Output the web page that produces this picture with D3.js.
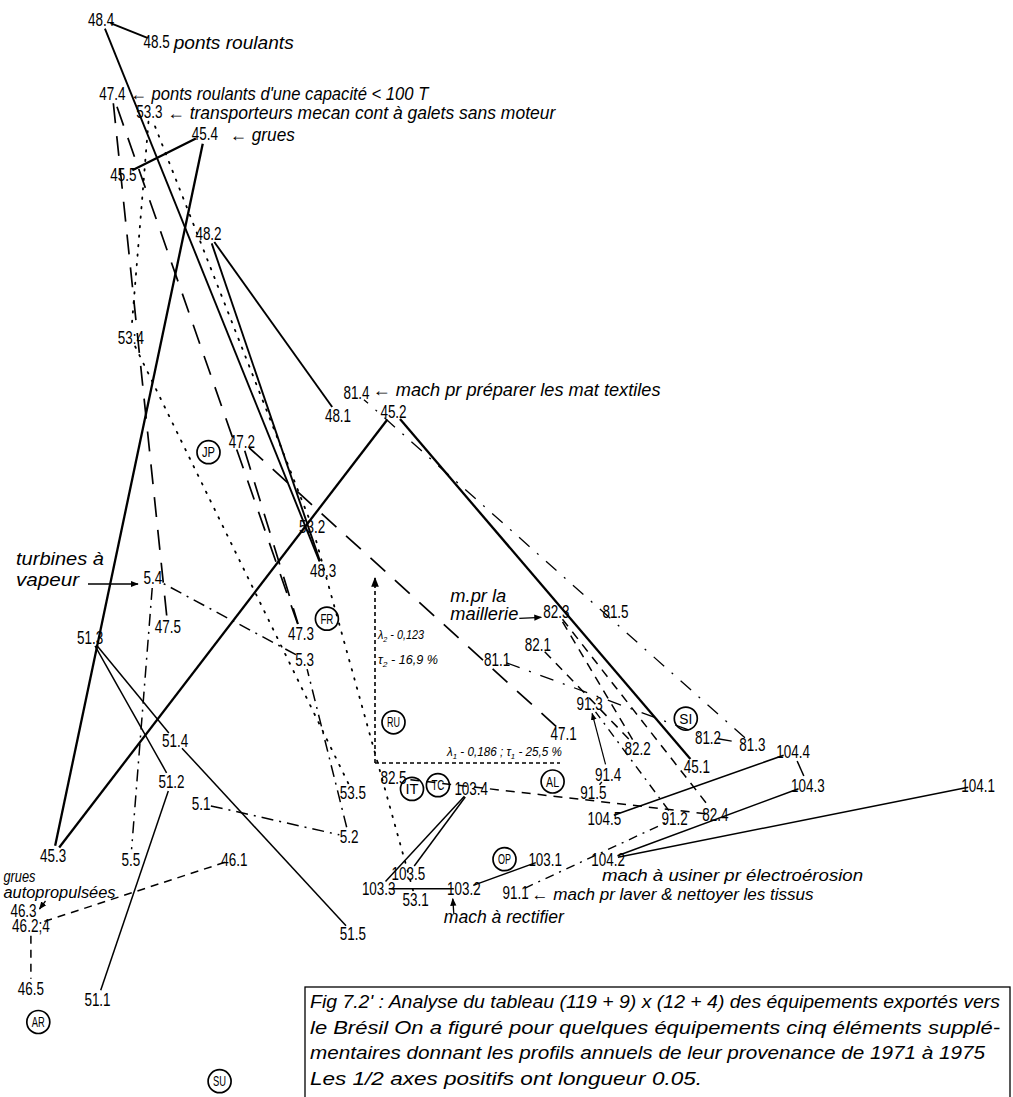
<!DOCTYPE html>
<html>
<head>
<meta charset="utf-8">
<style>
body { margin: 0; background: #fff; }
text { font-family: "Liberation Sans", "DejaVu Sans", sans-serif; fill: #000; }
.hand { font-style: italic; }
</style>
</head>
<body>
<div id="chart"></div>
<script src="https://cdnjs.cloudflare.com/ajax/libs/d3/7.8.5/d3.min.js"></script>
<script>
// factor coordinates x 1000 : [label, F1, F2]
var grues        = [["45.1", 87, -1], ["45.2", 5, 95], ["45.3", -87, -25], ["45.4", -46, 170], ["45.5", -68, 159]];
var gruesAuto    = [["46.1", -38, -26], ["46.2", -93, -44], ["46.3", -95, -40], ["46.4", -93, -44], ["46.5", -93, -61]];
var pontsCap     = [["47.1", 51, 8], ["47.2", -36, 87], ["47.3", -20, 35], ["47.4", -71, 181], ["47.5", -56, 37]];
var pontsRoul    = [["48.1", -10, 94], ["48.2", -45, 143], ["48.3", -14, 52], ["48.4", -74, 201], ["48.5", -59, 195]];
var turbines     = [["5.1", -47, -11], ["5.2", -7, -20], ["5.3", -19, 28], ["5.4", -60, 50], ["5.5", -66, -26]];
var item51       = [["51.1", -75, -64], ["51.2", -55, -5], ["51.3", -77, 34], ["51.4", -54, 6], ["51.5", -6, -46]];
var transport    = [["53.1", 11, -37], ["53.2", -17, 64], ["53.3", -61, 176], ["53.4", -66, 115], ["53.5", -6, -8]];
var textilesPrep = [["81.1", 33, 28], ["81.2", 90, 7], ["81.3", 102, 5], ["81.4", -5, 100], ["81.5", 65, 41]];
var maillerie    = [["82.1", 44, 32], ["82.2", 71, 4], ["82.3", 49, 41], ["82.4", 92, -14], ["82.5", 5, -4]];
var laver        = [["91.1", 38, -35], ["91.2", 81, -15], ["91.3", 58, 16], ["91.4", 63, -3], ["91.5", 59, -8]];
var rectifier    = [["103.1", 46, -26], ["103.2", 24, -34], ["103.3", 1, -34], ["103.4", 26, -7], ["103.5", 9, -30]];
var electro      = [["104.1", 163, -6], ["104.2", 63, -26], ["104.3", 117, -6], ["104.4", 113, 3], ["104.5", 62, -15]];

// countries (columns)
var countries = [["JP", -45, 84], ["FR", -13, 39], ["RU", 5, 11], ["IT", 10, -7], ["TC", 17, -6],
                 ["AL", 48, -5], ["SI", 84, 12], ["OP", 35, -26], ["AR", -91, -70], ["SU", -42, -86]];

// yearly profile links
var links = [
  ["45.1","45.2"],["45.2","45.3"],["45.3","45.4"],["45.4","45.5"],
  ["48.1","48.2"],["48.2","48.3"],["48.3","48.4"],["48.4","48.5"],
  ["51.1","51.2"],["51.2","51.3"],["51.3","51.4"],["51.4","51.5"],
  ["47.1","47.2"],["47.2","47.3"],["47.3","47.4"],["47.4","47.5"],
  ["53.1","53.2"],["53.2","53.3"],["53.3","53.4"],["53.4","53.5"],
  ["5.1","5.2"],["5.2","5.3"],["5.3","5.4"],["5.4","5.5"],
  ["46.1","46.2"],["46.4","46.5"],
  ["82.1","82.2"],["82.2","82.3"],["82.3","82.4"],["82.4","82.5"],
  ["81.1","81.2"],["81.2","81.3"],["81.3","81.4"],
  ["91.1","91.2"],["91.2","91.3"],["91.4","91.5"],
  ["103.1","103.2"],["103.2","103.3"],["103.3","103.4"],["103.4","103.5"],
  ["104.1","104.2"],["104.2","104.3"],["104.3","104.4"],["104.4","104.5"]
];
var arrowLinks = [["91.4","91.3"]];

var caption = [
  "Fig 7.2' : Analyse du tableau (119 + 9) x (12 + 4) des équipements exportés vers",
  "le Brésil  On a figuré pour quelques équipements cinq éléments supplé-",
  "mentaires donnant les profils annuels de leur provenance de 1971 à 1975",
  "Les 1/2 axes positifs ont longueur 0.05."
];

var W = 1013, H = 1097;
// both half axes (0.05) drawn with the same length
var x = d3.scaleLinear().domain([0, 50]).range([375, 560]);
var y = d3.scaleLinear().domain([0, 50]).range([763, 578]);

var svg = d3.select("#chart").append("svg").attr("width", W).attr("height", H);

var defs = svg.append("defs");
defs.append("marker").attr("id", "arr").attr("viewBox", "0 0 10 10")
  .attr("refX", 9).attr("refY", 5).attr("markerWidth", 6).attr("markerHeight", 6)
  .attr("orient", "auto")
  .append("path").attr("d", "M0,1 L10,5 L0,9 Z").attr("fill", "#000");

var points = [].concat(grues, gruesAuto, pontsCap, pontsRoul, turbines, item51, transport,
                       textilesPrep, maillerie, laver, rectifier, electro)
  .map(function(d) { return {name: d[0], f1: d[1], f2: d[2], serie: d[0].split(".")[0]}; });
var byName = {};
points.forEach(function(p) { byName[p.name] = p; });

var styles = {
  "45":  {w: 2.3, dash: null},
  "48":  {w: 1.9, dash: null},
  "51":  {w: 1.5, dash: null},
  "103": {w: 1.5, dash: null},
  "104": {w: 1.5, dash: null},
  "47":  {w: 1.7, dash: "20,13"},
  "53":  {w: 1.8, dash: "1.5,8"},
  "5":   {w: 1.5, dash: "12,6,2,6"},
  "46":  {w: 1.5, dash: "8,6"},
  "82":  {w: 1.5, dash: "9,7"},
  "81":  {w: 1.3, dash: "14,10,2,10"},
  "91":  {w: 1.4, dash: "9,6,2,6"}
};

function seg(a, b, g) {
  var x1 = x(a.f1), y1 = y(a.f2), x2 = x(b.f1), y2 = y(b.f2);
  var dx = x2 - x1, dy = y2 - y1, L = Math.sqrt(dx * dx + dy * dy) || 1;
  return [x1 + dx / L * g, y1 + dy / L * g, x2 - dx / L * g, y2 - dy / L * g];
}

var gl = svg.append("g").attr("fill", "none").attr("stroke", "#000");
gl.selectAll("line.link").data(links).enter().append("line")
  .attr("class", "link")
  .each(function(d) {
    var a = byName[d[0]], b = byName[d[1]], s = seg(a, b, 10), st = styles[a.serie];
    d3.select(this).attr("x1", s[0]).attr("y1", s[1]).attr("x2", s[2]).attr("y2", s[3])
      .attr("stroke-width", st.w).attr("stroke-dasharray", st.dash)
      .attr("stroke-linecap", st.dash === "1.5,8" ? "round" : "butt");
  });

gl.selectAll("line.arrow").data(arrowLinks).enter().append("line")
  .each(function(d) {
    var s = seg(byName[d[0]], byName[d[1]], 10);
    d3.select(this).attr("x1", s[0]).attr("y1", s[1]).attr("x2", s[2]).attr("y2", s[3])
      .attr("stroke-width", 1.2).attr("marker-end", "url(#arr)");
  });

// half axes of length 0.05
var ox = x(0), oy = y(0);
var ax = svg.append("g").attr("fill", "none").attr("stroke", "#000").attr("stroke-width", 1.6)
  .attr("stroke-dasharray", "4,3");
ax.append("line").attr("x1", ox).attr("y1", oy).attr("x2", ox).attr("y2", y(50))
  .attr("marker-end", "url(#arr)");
ax.append("line").attr("x1", ox).attr("y1", oy).attr("x2", x(50)).attr("y2", oy);

function labLen(s) {
  return s.split("").reduce(function(a, c) { return a + (/[0-9]/.test(c) ? 7.4 : 4); }, 0);
}
var lab = {"46.2": "46.2;4", "46.4": "", "53.4": "53:4"};
svg.append("g").selectAll("text").data(points.filter(function(d) { return lab[d.name] !== ""; }))
  .enter().append("text")
  .attr("x", function(d) { return x(d.f1); })
  .attr("y", function(d) { return y(d.f2); })
  .attr("dy", "0.36em")
  .attr("text-anchor", "middle")
  .attr("font-size", 18)
  .attr("textLength", function(d) { return labLen(lab[d.name] || d.name); })
  .attr("lengthAdjust", "spacingAndGlyphs")
  .text(function(d) { return lab[d.name] || d.name; });

var gc = svg.append("g").selectAll("g").data(countries).enter().append("g")
  .attr("transform", function(d) { return "translate(" + x(d[1]) + "," + y(d[2]) + ")"; });
gc.append("circle").attr("r", 11.5).attr("fill", "none").attr("stroke", "#000").attr("stroke-width", 1.7);
gc.append("text").attr("text-anchor", "middle").attr("dy", "0.36em")
  .attr("font-size", 14).attr("textLength", 13).attr("lengthAdjust", "spacingAndGlyphs")
  .text(function(d) { return d[0]; });

// hand written notes, placed relative to their points
var notes = [
  {at: "48.5",  dx: 17,   dy: 7,   fs: 18, len: 120, t: "ponts roulants"},
  {at: "47.4",  dx: 18,   dy: 7,   fs: 18, len: 298, t: "← ponts roulants d'une capacité < 100 T"},
  {at: "53.3",  dx: 18,   dy: 7,   fs: 18, len: 388, t: "← transporteurs mecan cont à galets sans moteur"},
  {at: "45.4",  dx: 25,   dy: 7,   fs: 18, len: 65,  t: "← grues"},
  {at: "81.4",  dx: 16,   dy: 3,   fs: 18, len: 288, t: "← mach pr préparer les mat textiles"},
  {at: "104.2", dx: -6,   dy: 22,  fs: 16, len: 261, t: "mach à usiner pr électroérosion"},
  {at: "91.1",  dx: 16,   dy: 7,   fs: 16, len: 282, t: "← mach pr laver & nettoyer les tissus"},
  {at: "103.2", dx: -20,  dy: 34,  fs: 18, len: 120, t: "mach à rectifier"},
  {at: "5.4",   dx: -137, dy: -13, fs: 18, len: 88,  t: "turbines à"},
  {at: "5.4",   dx: -137, dy: 8,   fs: 18, len: 63,  t: "vapeur"},
  {at: "82.3",  dx: -106, dy: -9,  fs: 18, len: 56,  t: "m.pr la"},
  {at: "82.3",  dx: -106, dy: 9,   fs: 18, len: 68,  t: "maillerie"},
  {at: "46.3",  dx: -20,  dy: -29, fs: 16, len: 32,  t: "grues"},
  {at: "46.3",  dx: -20,  dy: -13, fs: 16, len: 112, t: "autopropulsées"}
];
svg.append("g").selectAll("text").data(notes).enter().append("text")
  .attr("class", "hand")
  .attr("x", function(d) { return x(byName[d.at].f1) + d.dx; })
  .attr("y", function(d) { return y(byName[d.at].f2) + d.dy; })
  .attr("font-size", function(d) { return d.fs; })
  .attr("textLength", function(d) { return d.len; })
  .attr("lengthAdjust", "spacingAndGlyphs")
  .text(function(d) { return d.t; });

var noteArrows = [
  {at: "5.4",   x1: -65, y1: 6,   x2: -15, y2: 6},
  {at: "82.3",  x1: -37, y1: 7,   x2: -15, y2: 6},
  {at: "103.2", x1: -10, y1: 25,  x2: -11, y2: 10},
  {at: "46.3",  x1: 22,  y1: -10, x2: 16,  y2: -2}
];
svg.append("g").selectAll("line").data(noteArrows).enter().append("line")
  .attr("x1", function(d) { return x(byName[d.at].f1) + d.x1; })
  .attr("y1", function(d) { return y(byName[d.at].f2) + d.y1; })
  .attr("x2", function(d) { return x(byName[d.at].f1) + d.x2; })
  .attr("y2", function(d) { return y(byName[d.at].f2) + d.y2; })
  .attr("stroke", "#000").attr("stroke-width", 1.3).attr("marker-end", "url(#arr)");

// eigenvalues on the half axes
function subText(xp, yp, len, parts) {
  var t = svg.append("text").attr("class", "hand").attr("font-size", 12)
    .attr("x", xp).attr("y", yp).attr("textLength", len).attr("lengthAdjust", "spacingAndGlyphs");
  parts.forEach(function(p) {
    if (p.sub) t.append("tspan").attr("font-size", 8).attr("dy", 3).text(p.sub);
    else t.append("tspan").attr("dy", p.up ? -3 : 0).text(p.t);
  });
}
subText(ox + 3, oy - 124, 46, [{t: "λ"}, {sub: "2"}, {t: " - 0,123", up: 1}]);
subText(ox + 3, oy - 99, 60, [{t: "τ"}, {sub: "2"}, {t: " - 16,9 %", up: 1}]);
subText(ox + 72, oy - 7, 115, [{t: "λ"}, {sub: "1"}, {t: " - 0,186 ; τ", up: 1}, {sub: "1"}, {t: " - 25,5 %", up: 1}]);

// caption box
var cap = svg.append("g").attr("transform", "translate(305,987)");
cap.append("rect").attr("width", 705).attr("height", 130)
  .attr("fill", "none").attr("stroke", "#000").attr("stroke-width", 1.3);
var capLen = [690, 690, 675, 392];
cap.selectAll("text").data(caption).enter().append("text")
  .attr("class", "hand")
  .attr("x", 5)
  .attr("y", function(d, i) { return 21 + i * 25.5; })
  .attr("font-size", 18)
  .attr("textLength", function(d, i) { return capLen[i]; })
  .attr("lengthAdjust", "spacingAndGlyphs")
  .text(function(d) { return d; });
</script>
</body>
</html>
